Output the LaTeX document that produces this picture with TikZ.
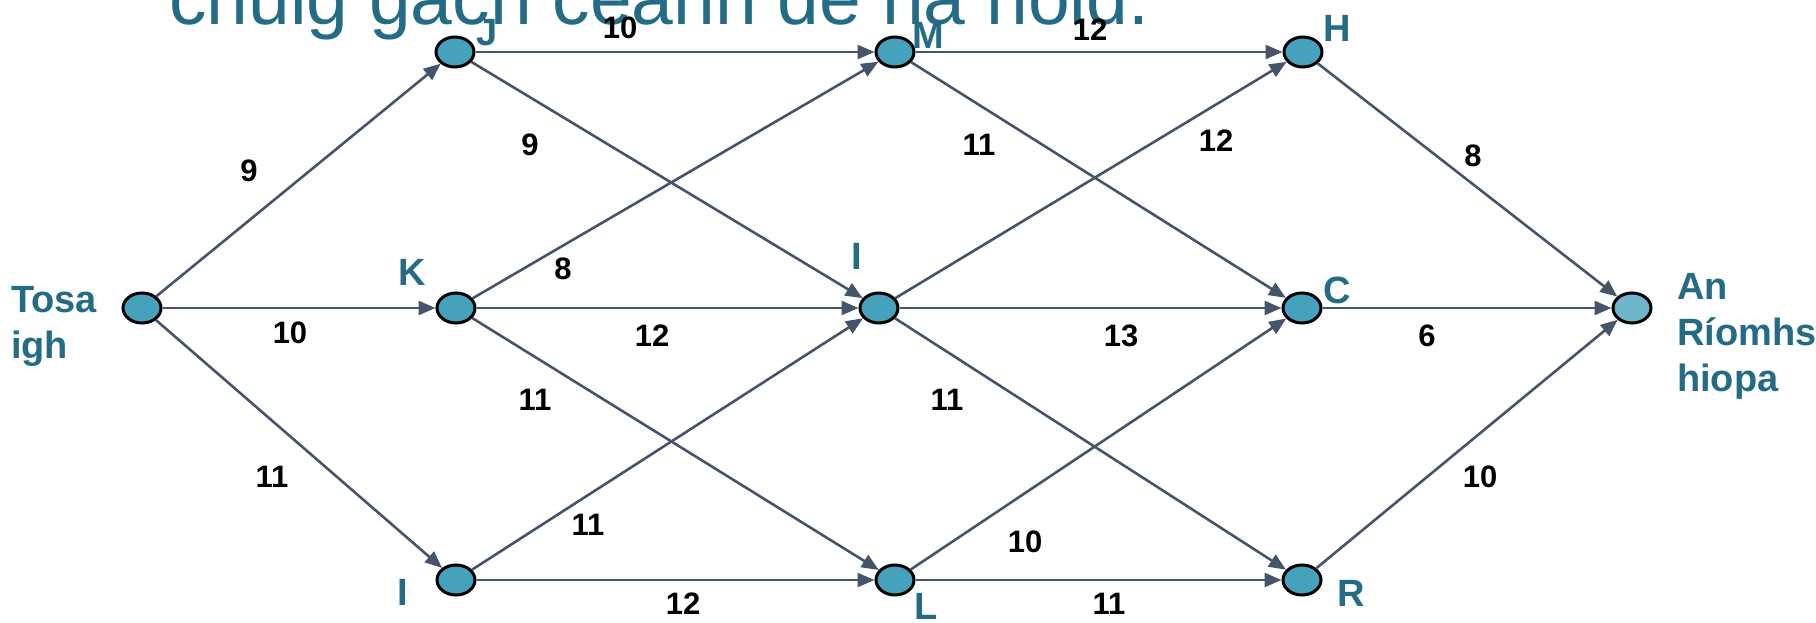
\documentclass[tikz,border=0pt]{standalone}
\usepackage{fontspec}
\setmainfont{Liberation Sans}
\usetikzlibrary{shapes.geometric,arrows.meta}
\definecolor{nodefill}{HTML}{45A1BC}
\definecolor{endfill}{HTML}{6FB5CB}
\definecolor{tealtxt}{HTML}{246B85}
\definecolor{edgecol}{HTML}{44546A}
\begin{document}
\begin{tikzpicture}[x=1pt,y=-1pt,
  vtx/.style={ellipse,draw=black,line width=3pt,fill=nodefill,minimum width=38pt,minimum height=30pt,inner sep=0pt},
  nlab/.style={text=tealtxt,font=\bfseries\fontsize{38}{46}\selectfont,inner sep=0pt},
  wlab/.style={font=\bfseries\fontsize{31}{36}\selectfont,inner sep=0pt},
  edge/.style={draw=edgecol,line width=2.6pt,-{Triangle[length=17pt,width=14pt]}}
]
\useasboundingbox (0,0) rectangle (1816,623);
\begin{scope}
\clip (0,0) rectangle (1816,623);
\node[anchor=base west,text=tealtxt,font=\fontsize{75}{80}\selectfont,inner sep=0pt] (title) at (169,25) {chuig gach ceann de na nóid.};
\end{scope}

% vertices
\node[vtx] (S) at (142,308) {};
\node[vtx] (J) at (455,52) {};
\node[vtx] (K) at (456,308) {};
\node[vtx] (Ib) at (456,580) {};
\node[vtx] (M) at (895,52) {};
\node[vtx] (Im) at (879,308) {};
\node[vtx] (L) at (895,580) {};
\node[vtx] (H) at (1303,52) {};
\node[vtx] (C) at (1302,308) {};
\node[vtx] (R) at (1302,580) {};
\node[vtx,fill=endfill] (E) at (1632,308) {};

% vertex labels
\node[nlab,anchor=west,align=left] (lS) at (11,326) {Tosa\\igh};
\node[nlab] (lJ) at (487,33) {J};
\node[nlab] (lK) at (412,272) {K};
\node[nlab] (lIb) at (403,592) {I};
\node[nlab] (lM) at (928,35) {M};
\node[nlab] (lIm) at (857,256) {I};
\node[nlab] (lL) at (926,606) {L};
\node[nlab] (lH) at (1337,28) {H};
\node[nlab] (lC) at (1337,290) {C};
\node[nlab] (lR) at (1351,593) {R};
\node[nlab,anchor=west,align=left] (lE) at (1677,336) {An\\Ríomhs\\hiopa};

% edges
\draw[edge] (S) -- (J);
\draw[edge] (S) -- (K);
\draw[edge] (S) -- (Ib);
\draw[edge] (J) -- (M);
\draw[edge] (J) -- (Im);
\draw[edge] (K) -- (M);
\draw[edge] (K) -- (Im);
\draw[edge] (K) -- (L);
\draw[edge] (Ib) -- (Im);
\draw[edge] (Ib) -- (L);
\draw[edge] (M) -- (H);
\draw[edge] (M) -- (C);
\draw[edge] (Im) -- (H);
\draw[edge] (Im) -- (C);
\draw[edge] (Im) -- (R);
\draw[edge] (L) -- (C);
\draw[edge] (L) -- (R);
\draw[edge] (H) -- (E);
\draw[edge] (C) -- (E);
\draw[edge] (R) -- (E);

% weights
\node[wlab] (w1) at (620,28) {10};
\node[wlab] (w2) at (1090,30) {12};
\node[wlab] (w3) at (249,171) {9};
\node[wlab] (w4) at (530,145) {9};
\node[wlab] (w5) at (979,145) {11};
\node[wlab] (w6) at (1216,141) {12};
\node[wlab] (w7) at (1473,156) {8};
\node[wlab] (w8) at (563,269) {8};
\node[wlab] (w9) at (290,333) {10};
\node[wlab] (w10) at (652,336) {12};
\node[wlab] (w11) at (1121,336) {13};
\node[wlab] (w12) at (1427,336) {6};
\node[wlab] (w13) at (535,400) {11};
\node[wlab] (w14) at (947,400) {11};
\node[wlab] (w15) at (272,477) {11};
\node[wlab] (w16) at (588,525) {11};
\node[wlab] (w17) at (1025,542) {10};
\node[wlab] (w18) at (1480,477) {10};
\node[wlab] (w19) at (683,604) {12};
\node[wlab] (w20) at (1109,604) {11};
\end{tikzpicture}
\end{document}
